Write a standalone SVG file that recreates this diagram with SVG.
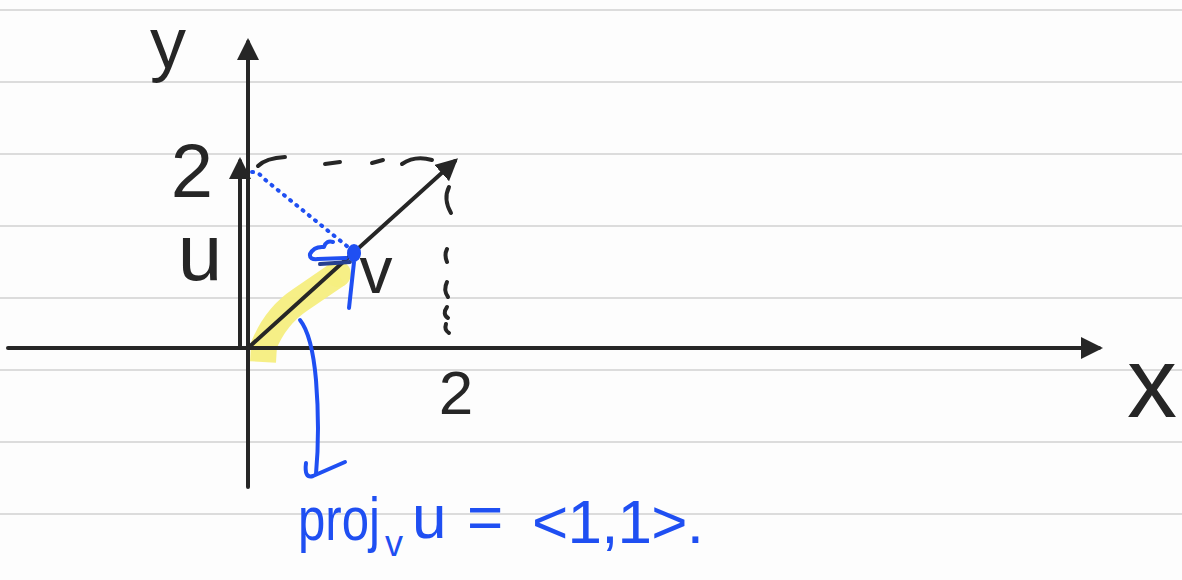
<svg xmlns="http://www.w3.org/2000/svg" width="1182" height="580" viewBox="0 0 1182 580">
  <style>
    .rule { stroke: #dcdcdc; stroke-width: 2; }
    .ink { stroke: #262626; stroke-width: 4; fill: none; stroke-linecap: round; }
    .dash { stroke: #262626; stroke-width: 4; fill: none; stroke-linecap: round; }
    .blue { stroke: #1f4ff2; stroke-width: 4; fill: none; stroke-linecap: round; stroke-linejoin: round; }
    .hand { font-family: "Liberation Sans", "DejaVu Sans", sans-serif; fill: #262626; text-anchor: middle; }
    .bluetext { font-family: "Liberation Sans", "DejaVu Sans", sans-serif; fill: #1f4ff2; }
  </style>
  <defs>
    <marker id="head" markerUnits="userSpaceOnUse" markerWidth="24" markerHeight="24" refX="18" refY="11" orient="auto">
      <path d="M0,0 L22,11 L0,22 z" fill="#262626"/>
    </marker>
  </defs>
  <rect x="0" y="0" width="1182" height="580" fill="#fdfdfd"/>
  <g id="ruled-lines">
    <line class="rule" x1="0" y1="10" x2="1182" y2="10"/>
    <line class="rule" x1="0" y1="82" x2="1182" y2="82"/>
    <line class="rule" x1="0" y1="154" x2="1182" y2="154"/>
    <line class="rule" x1="0" y1="226" x2="1182" y2="226"/>
    <line class="rule" x1="0" y1="298" x2="1182" y2="298"/>
    <line class="rule" x1="0" y1="370" x2="1182" y2="370"/>
    <line class="rule" x1="0" y1="442" x2="1182" y2="442"/>
    <line class="rule" x1="0" y1="514" x2="1182" y2="514"/>
  </g>
  <g id="highlight">
    <path d="M263,362 L264,345 Q276,316 300,300 L338,274" stroke="#f5ee80" stroke-width="26" fill="none" stroke-linecap="butt" opacity="0.95"/>
    <circle cx="338" cy="274" r="13" fill="#f5ee80" opacity="0.95"/>
  </g>
  <g id="axis-x">
    <line class="ink" x1="8" y1="348" x2="1099" y2="348" stroke-linecap="butt" marker-end="url(#head)"/>
  </g>
  <g id="axis-y">
    <line class="ink" x1="248" y1="487" x2="248" y2="42" stroke-linecap="butt" marker-end="url(#head)"/>
  </g>
  <g id="vec-u">
    <line class="ink" x1="240" y1="348" x2="240" y2="161" stroke-linecap="butt" marker-end="url(#head)"/>
  </g>
  <g id="vec-v">
    <line class="ink" x1="248" y1="348" x2="455" y2="161" stroke-linecap="butt" marker-end="url(#head)"/>
  </g>
  <g id="connectors">
    <g id="dashed-horizontal">
      <path class="dash" d="M258,166 Q266,158 285,157"/>
      <path class="dash" d="M325,164 L340,162"/>
      <path class="dash" d="M372,163 L383,160"/>
      <path class="dash" d="M402,164 Q415,155 432,160"/>
    </g>
    <g id="dashed-vertical">
      <path class="dash" d="M449,187 Q443,199 451,213"/>
      <path class="dash" d="M447,249 Q444,255 447,262"/>
      <path class="dash" d="M447,282 Q443,290 448,297"/>
      <path class="dash" d="M447,307 Q442,314 448,318"/>
      <path class="dash" d="M446,324 Q444,330 449,333"/>
    </g>
    <g id="projection">
      <path class="blue" d="M252,172 Q259,172 263,178 L348,247" stroke-dasharray="1 7"/>
      <path class="blue" d="M333,242 Q326,240 324,247 Q314,246 310,254 Q309,260 318,259 L346,258"/>
      <path d="M320,264 L350,262" stroke="#27408f" stroke-width="4" fill="none" stroke-linecap="round"/>
      <ellipse cx="354" cy="253" rx="7" ry="9" fill="#1f4ff2"/>
      <path class="blue" d="M354,262 L349,308"/>
    </g>
    <g id="pointer-arrow">
      <path class="blue" d="M300,320 Q312,335 316,380 Q320,430 316,474"/>
      <path class="blue" d="M306,463 Q304,479 313,476 L345,462"/>
    </g>
  </g>
  <g id="label-y"><text class="hand" x="168" y="68" font-size="72">y</text></g>
  <g id="label-y2"><text class="hand" x="192" y="197" font-size="76">2</text></g>
  <g id="label-u"><text class="hand" x="200" y="280" font-size="80">u</text></g>
  <g id="label-v"><text class="hand" x="376" y="293" font-size="66">v</text></g>
  <g id="label-x2"><text class="hand" x="456" y="414" font-size="62">2</text></g>
  <g id="label-x"><text class="hand" x="1152" y="417" font-size="100">x</text></g>
  <g id="formula">
    <text class="bluetext" y="540" font-size="62"><tspan x="298" textLength="82" lengthAdjust="spacingAndGlyphs">proj</tspan><tspan x="385" y="556" font-size="36">v</tspan><tspan x="412" y="538">u</tspan><tspan x="467" y="538">=</tspan><tspan x="532" y="543" textLength="172" lengthAdjust="spacing">&lt;1,1&gt;.</tspan></text>
  </g>
</svg>
